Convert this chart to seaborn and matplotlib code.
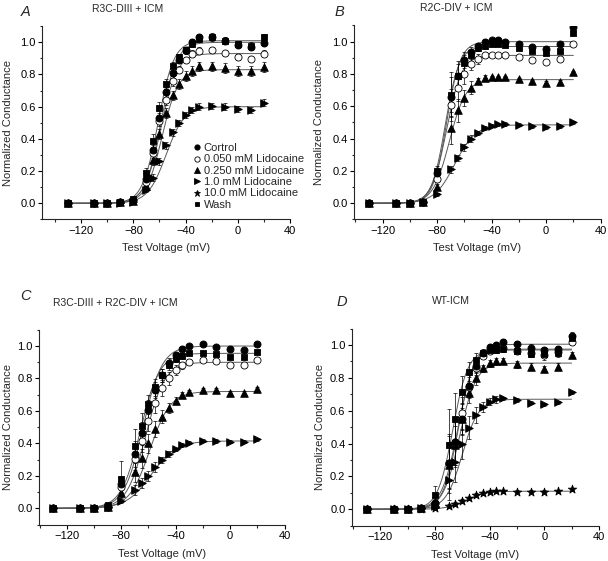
import numpy as np
import pandas as pd
import matplotlib
matplotlib.use("Agg")
import matplotlib.pyplot as plt
import seaborn as sns
from matplotlib.ticker import MultipleLocator
from matplotlib.lines import Line2D

# ---------------- data ----------------
voltages = [-130, -110, -100, -90, -80, -70, -65, -60, -55, -50, -45, -40, -35, -30, -20, -10, 0, 10, 20]
series_names = ["Cortrol", "0.050 mM Lidocaine", "0.250 mM Lidocaine", "1.0 mM Lidocaine", "10.0 mM Lidocaine", "Wash"]
panel_letters = ["A", "B", "C", "D"]
panel_titles = ["R3C-DIII + ICM", "R2C-DIV + ICM", "R3C-DIII + R2C-DIV + ICM", "WT-ICM"]
x_ticks = [-120, -80, -40, 0, 40]
y_ticks = [0.0, 0.2, 0.4, 0.6, 0.8, 1.0]

# Panel A
a_control = [0.0, 0.0, 0.0, 0.005, 0.02, 0.15, 0.33, 0.53, 0.69, 0.81, 0.89, 0.95, 1.0, 1.03, 1.035, 1.01, 0.985, 0.97, 0.995]
a_050 = [0.0, 0.0, 0.0, 0.005, 0.02, 0.13, 0.31, 0.51, 0.64, 0.76, 0.83, 0.89, 0.93, 0.948, 0.952, 0.935, 0.91, 0.896, 0.93]
a_250 = [0.0, 0.0, 0.0, 0.005, 0.015, 0.11, 0.27, 0.43, 0.56, 0.67, 0.74, 0.79, 0.82, 0.85, 0.85, 0.84, 0.82, 0.82, 0.845]
a_1000 = [0.0, 0.0, 0.0, 0.0, 0.01, 0.08, 0.16, 0.26, 0.36, 0.44, 0.50, 0.55, 0.58, 0.60, 0.605, 0.60, 0.585, 0.58, 0.625]
a_wash = [0.0, 0.0, 0.0, 0.005, 0.025, 0.19, 0.39, 0.59, 0.74, 0.85, 0.91, 0.95, 0.99, 1.02, 1.03, 1.01, 0.99, 0.98, 1.03]
a_control_err = [0, 0, 0, 0, 0.005, 0.02, 0.03, 0.03, 0.03, 0.03, 0.02, 0.02, 0.02, 0.02, 0.02, 0.02, 0.02, 0.02, 0.02]
a_050_err = [0, 0, 0, 0, 0.005, 0.02, 0.03, 0.03, 0.03, 0.03, 0.02, 0.02, 0.02, 0.02, 0.02, 0.02, 0.02, 0.02, 0.02]
a_250_err = [0, 0, 0, 0, 0.005, 0.02, 0.03, 0.03, 0.03, 0.03, 0.03, 0.03, 0.03, 0.03, 0.03, 0.03, 0.03, 0.03, 0.03]
a_1000_err = [0, 0, 0, 0, 0.005, 0.01, 0.02, 0.02, 0.02, 0.02, 0.02, 0.02, 0.02, 0.02, 0.02, 0.02, 0.02, 0.02, 0.02]
a_wash_err = [0, 0, 0, 0, 0.005, 0.03, 0.04, 0.04, 0.03, 0.03, 0.02, 0.02, 0.02, 0.02, 0.02, 0.02, 0.02, 0.02, 0.02]

# Panel B
b_control = [0.0, 0.0, 0.0, 0.01, 0.19, 0.66, 0.79, 0.884, 0.938, 0.973, 0.998, 1.01, 1.01, 1.0, 0.988, 0.969, 0.952, 0.983, 1.093]
b_050 = [0.0, 0.0, 0.0, 0.01, 0.15, 0.606, 0.714, 0.80, 0.863, 0.894, 0.917, 0.92, 0.92, 0.92, 0.905, 0.886, 0.876, 0.894, 0.983]
b_250 = [0.0, 0.0, 0.0, 0.01, 0.10, 0.466, 0.575, 0.65, 0.714, 0.755, 0.774, 0.78, 0.78, 0.78, 0.766, 0.755, 0.745, 0.75, 0.81]
b_1000 = [0.0, 0.0, 0.0, 0.01, 0.055, 0.21, 0.28, 0.345, 0.40, 0.435, 0.466, 0.48, 0.488, 0.49, 0.485, 0.475, 0.47, 0.475, 0.50]
b_wash = [0.0, 0.0, 0.0, 0.01, 0.20, 0.672, 0.79, 0.87, 0.92, 0.96, 0.975, 0.985, 0.985, 0.98, 0.963, 0.942, 0.927, 0.942, 1.052]
b_control_err = [0, 0, 0, 0, 0.02, 0.12, 0.07, 0.05, 0.03, 0.02, 0.02, 0.01, 0.01, 0.01, 0.01, 0.01, 0.01, 0.01, 0.01]
b_050_err = [0, 0, 0, 0, 0.02, 0.1, 0.08, 0.06, 0.04, 0.03, 0.02, 0.01, 0.01, 0.01, 0.01, 0.01, 0.01, 0.01, 0.01]
b_250_err = [0, 0, 0, 0, 0.02, 0.1, 0.07, 0.05, 0.04, 0.02, 0.02, 0.01, 0.01, 0.01, 0.01, 0.01, 0.01, 0.01, 0.01]
b_1000_err = [0, 0, 0, 0, 0.01, 0.02, 0.02, 0.02, 0.02, 0.01, 0.01, 0.01, 0.01, 0.01, 0.01, 0.01, 0.01, 0.01, 0.01]
b_wash_err = [0, 0, 0, 0, 0.03, 0.14, 0.09, 0.05, 0.03, 0.02, 0.02, 0.01, 0.01, 0.01, 0.01, 0.01, 0.01, 0.01, 0.01]

# Panel C
c_control = [0.0, 0.0, 0.0, 0.01, 0.15, 0.333, 0.462, 0.606, 0.729, 0.821, 0.897, 0.945, 0.98, 1.0, 1.01, 0.995, 0.98, 0.975, 1.013]
c_050 = [0.0, 0.0, 0.0, 0.01, 0.133, 0.304, 0.415, 0.536, 0.649, 0.739, 0.80, 0.85, 0.88, 0.903, 0.914, 0.908, 0.883, 0.883, 0.914]
c_250 = [0.0, 0.0, 0.0, 0.01, 0.092, 0.222, 0.308, 0.40, 0.489, 0.565, 0.62, 0.663, 0.698, 0.718, 0.729, 0.729, 0.712, 0.712, 0.735]
c_1000 = [0.0, 0.0, 0.0, 0.01, 0.045, 0.113, 0.154, 0.20, 0.253, 0.298, 0.335, 0.364, 0.39, 0.404, 0.417, 0.414, 0.41, 0.41, 0.425]
c_wash = [0.0, 0.0, 0.0, 0.02, 0.18, 0.386, 0.509, 0.64, 0.745, 0.82, 0.88, 0.92, 0.938, 0.959, 0.96, 0.95, 0.93, 0.93, 0.965]
c_control_err = [0, 0, 0, 0, 0.05, 0.08, 0.07, 0.06, 0.05, 0.04, 0.03, 0.02, 0.02, 0.01, 0.01, 0.01, 0.01, 0.01, 0.01]
c_050_err = [0, 0, 0, 0, 0.04, 0.07, 0.07, 0.06, 0.06, 0.05, 0.04, 0.03, 0.02, 0.02, 0.01, 0.01, 0.01, 0.01, 0.01]
c_250_err = [0, 0, 0, 0, 0.03, 0.06, 0.06, 0.06, 0.05, 0.04, 0.03, 0.02, 0.02, 0.01, 0.01, 0.01, 0.01, 0.01, 0.01]
c_1000_err = [0, 0, 0, 0, 0.01, 0.03, 0.03, 0.03, 0.03, 0.02, 0.02, 0.01, 0.01, 0.01, 0.01, 0.01, 0.01, 0.01, 0.01]
c_wash_err = [0, 0, 0, 0, 0.11, 0.1, 0.08, 0.06, 0.05, 0.04, 0.03, 0.02, 0.02, 0.01, 0.01, 0.01, 0.01, 0.01, 0.01]

# Panel D
d_control = [0.0, 0.0, 0.0, 0.005, 0.04, 0.28, 0.41, 0.55, 0.75, 0.87, 0.95, 0.985, 1.0, 1.016, 1.004, 0.984, 0.97, 0.976, 1.057]
d_050 = [0.0, 0.0, 0.0, 0.005, 0.04, 0.284, 0.41, 0.584, 0.746, 0.86, 0.935, 0.965, 0.975, 0.98, 0.965, 0.953, 0.939, 0.96, 1.02]
d_250 = [0.0, 0.0, 0.0, 0.005, 0.03, 0.27, 0.39, 0.55, 0.706, 0.797, 0.858, 0.889, 0.90, 0.903, 0.883, 0.868, 0.854, 0.868, 0.939]
d_1000 = [0.0, 0.0, 0.0, 0.005, 0.02, 0.178, 0.286, 0.397, 0.497, 0.574, 0.624, 0.655, 0.67, 0.676, 0.665, 0.649, 0.639, 0.651, 0.712]
d_10000 = [0.0, 0.0, 0.0, 0.0, 0.006, 0.02, 0.032, 0.05, 0.067, 0.087, 0.097, 0.107, 0.11, 0.11, 0.107, 0.107, 0.107, 0.11, 0.122]
d_wash = [0.0, 0.0, 0.0, 0.005, 0.084, 0.39, 0.548, 0.714, 0.838, 0.909, 0.953, 0.97, 0.97, 0.975, 0.965, 0.945, 0.945, 0.95, 1.04]
d_control_err = [0, 0, 0, 0, 0.04, 0.18, 0.15, 0.1, 0.07, 0.04, 0.02, 0.02, 0.02, 0.02, 0.02, 0.02, 0.02, 0.02, 0.02]
d_050_err = [0, 0, 0, 0, 0.04, 0.16, 0.14, 0.1, 0.06, 0.04, 0.02, 0.02, 0.02, 0.02, 0.02, 0.02, 0.03, 0.02, 0.02]
d_250_err = [0, 0, 0, 0, 0.03, 0.14, 0.12, 0.09, 0.06, 0.04, 0.02, 0.02, 0.02, 0.02, 0.02, 0.02, 0.02, 0.02, 0.02]
d_1000_err = [0, 0, 0, 0, 0.02, 0.12, 0.12, 0.09, 0.07, 0.05, 0.03, 0.02, 0.02, 0.01, 0.01, 0.01, 0.01, 0.01, 0.01]
d_10000_err = [0, 0, 0, 0, 0.01, 0.01, 0.01, 0.01, 0.01, 0.01, 0.01, 0.01, 0.01, 0.01, 0.01, 0.01, 0.01, 0.01, 0.01]
d_wash_err = [0, 0, 0, 0, 0.06, 0.22, 0.16, 0.1, 0.06, 0.04, 0.02, 0.02, 0.02, 0.02, 0.02, 0.02, 0.02, 0.02, 0.02]

# Boltzmann fit parameters (Gmax, V1/2, k) per panel/series
a_fits = {"Cortrol": (1.0, -59, 6.0), "0.050 mM Lidocaine": (0.93, -59, 6.2),
          "0.250 mM Lidocaine": (0.83, -58, 6.2), "1.0 mM Lidocaine": (0.60, -55, 7.0),
          "Wash": (1.01, -61, 6.0)}
b_fits = {"Cortrol": (1.0, -73, 5.0), "0.050 mM Lidocaine": (0.915, -73, 5.5),
          "0.250 mM Lidocaine": (0.765, -71, 6.0), "1.0 mM Lidocaine": (0.485, -67, 7.5),
          "Wash": (0.97, -74, 5.0)}
c_fits = {"Cortrol": (1.0, -64, 7.0), "0.050 mM Lidocaine": (0.90, -62, 7.0),
          "0.250 mM Lidocaine": (0.72, -59, 7.5), "1.0 mM Lidocaine": (0.415, -58, 9.0),
          "Wash": (0.955, -66, 7.0)}
d_fits = {"Cortrol": (1.005, -63, 6.0), "0.050 mM Lidocaine": (0.975, -63, 5.5),
          "0.250 mM Lidocaine": (0.89, -62, 6.0), "1.0 mM Lidocaine": (0.67, -60, 6.0),
          "10.0 mM Lidocaine": (0.11, -57, 7.0), "Wash": (0.97, -67, 5.5)}

panels = [
    {"Cortrol": (a_control, a_control_err), "0.050 mM Lidocaine": (a_050, a_050_err),
     "0.250 mM Lidocaine": (a_250, a_250_err), "1.0 mM Lidocaine": (a_1000, a_1000_err),
     "Wash": (a_wash, a_wash_err)},
    {"Cortrol": (b_control, b_control_err), "0.050 mM Lidocaine": (b_050, b_050_err),
     "0.250 mM Lidocaine": (b_250, b_250_err), "1.0 mM Lidocaine": (b_1000, b_1000_err),
     "Wash": (b_wash, b_wash_err)},
    {"Cortrol": (c_control, c_control_err), "0.050 mM Lidocaine": (c_050, c_050_err),
     "0.250 mM Lidocaine": (c_250, c_250_err), "1.0 mM Lidocaine": (c_1000, c_1000_err),
     "Wash": (c_wash, c_wash_err)},
    {"Cortrol": (d_control, d_control_err), "0.050 mM Lidocaine": (d_050, d_050_err),
     "0.250 mM Lidocaine": (d_250, d_250_err), "1.0 mM Lidocaine": (d_1000, d_1000_err),
     "10.0 mM Lidocaine": (d_10000, d_10000_err), "Wash": (d_wash, d_wash_err)},
]
fits = [a_fits, b_fits, c_fits, d_fits]

# ---------------- style ----------------
sns.set_style("ticks")
plt.rcParams["font.family"] = ["Liberation Sans", "DejaVu Sans"]
plt.rcParams["axes.linewidth"] = 0.8

styles = {
    "Cortrol": dict(marker="o", fc="black", s=26),
    "0.050 mM Lidocaine": dict(marker="o", fc="white", s=26),
    "0.250 mM Lidocaine": dict(marker="^", fc="black", s=30),
    "1.0 mM Lidocaine": dict(marker=">", fc="black", s=30),
    "10.0 mM Lidocaine": dict(marker="*", fc="black", s=40),
    "Wash": dict(marker="s", fc="black", s=18),
}
draw_order = ["1.0 mM Lidocaine", "10.0 mM Lidocaine", "0.250 mM Lidocaine", "0.050 mM Lidocaine", "Cortrol", "Wash"]

W, H = 608, 561
fig = plt.figure(figsize=(W / 100, H / 100), dpi=100)

def px_rect(l, t, r, b):
    return [l / W, 1 - b / H, (r - l) / W, (b - t) / H]

axes_rects = [px_rect(42, 26.2, 290, 219.4), px_rect(354, 25.5, 600.6, 219.4),
              px_rect(39, 329.8, 284.5, 524.5), px_rect(351.7, 328.6, 598.9, 525.7)]
xlims = [(-150, 40), (-141, 40), (-140.5, 40), (-141, 40)]
ylabel_x = [-0.118, -0.12, -0.108, -0.11]
xlabel_y = [-0.15, -0.148, -0.152, -0.149]
letter_pos = [(21, 11.5), (335, 12.5), (20, 296), (337, 301.5)]
title_pos = [(91.7, 8.5), (420, 8), (53.3, 302.5), (431.7, 301)]

fit_x = np.linspace(-130, 20, 400)

for i, rect in enumerate(axes_rects):
    ax = fig.add_axes(rect)
    data = panels[i]
    # fitted Boltzmann curves
    for name, (g, vh, k) in fits[i].items():
        fy = g / (1 + np.exp((vh - fit_x) / k))
        sns.lineplot(x=fit_x, y=fy, ax=ax, color="0.35", lw=0.7, estimator=None, sort=False, zorder=1)
    # error bars
    for name in draw_order:
        if name not in data:
            continue
        vals, errs = data[name]
        v = np.array(voltages, float)
        e = np.array(errs, float)
        m = e > 0
        ax.errorbar(v[m], np.array(vals)[m], yerr=e[m], fmt="none", ecolor="black",
                    elinewidth=0.5, capsize=1.5, capthick=0.5, zorder=2)
    # markers
    for name in draw_order:
        if name not in data:
            continue
        vals, errs = data[name]
        df = pd.DataFrame({"Test Voltage (mV)": voltages, "Normalized Conductance": vals})
        st = styles[name]
        sns.scatterplot(data=df, x="Test Voltage (mV)", y="Normalized Conductance", ax=ax,
                        marker=st["marker"], s=st["s"], color=st["fc"], edgecolor="black",
                        linewidth=0.6, zorder=3, legend=False)
    ax.set_xlim(*xlims[i])
    ax.set_ylim(-0.1, 1.1)
    ax.set_xticks(x_ticks)
    ax.set_yticks(y_ticks)
    ax.set_yticklabels([f"{t:.1f}" for t in y_ticks])
    ax.xaxis.set_minor_locator(MultipleLocator(20))
    ax.yaxis.set_minor_locator(MultipleLocator(0.1))
    ax.tick_params(which="major", length=3.0, width=0.8, pad=1.5, labelsize=8, colors="black")
    ax.tick_params(which="minor", length=1.8, width=0.8)
    sns.despine(ax=ax)
    ax.set_xlabel("Test Voltage (mV)", fontsize=8, va="center")
    ax.set_ylabel("Normalized Conductance", fontsize=8, va="center")
    ax.xaxis.set_label_coords(0.5, xlabel_y[i])
    ax.yaxis.set_label_coords(ylabel_x[i] - 0.02, 0.5)
    lx, ly = letter_pos[i]
    fig.text(lx / W, 1 - ly / H, panel_letters[i], fontsize=10.5, style="italic", ha="left", va="center")
    tx, ty = title_pos[i]
    fig.text(tx / W, 1 - ty / H, panel_titles[i], fontsize=7.5, ha="left", va="center")

    if i == 0:
        handles = [Line2D([], [], ls="none", marker=styles[n]["marker"], markerfacecolor=styles[n]["fc"],
                          markeredgecolor="black", markeredgewidth=0.6,
                          markersize=np.sqrt(styles[n]["s"]) * 0.75) for n in series_names]
        ax.legend(handles, series_names, loc="upper left", bbox_to_anchor=(0.612, 0.395),
                  frameon=False, fontsize=8, handlelength=0.6, handletextpad=0.3,
                  labelspacing=0.12, borderpad=0.0, borderaxespad=0.0)

fig.savefig("out.png", dpi=100)
